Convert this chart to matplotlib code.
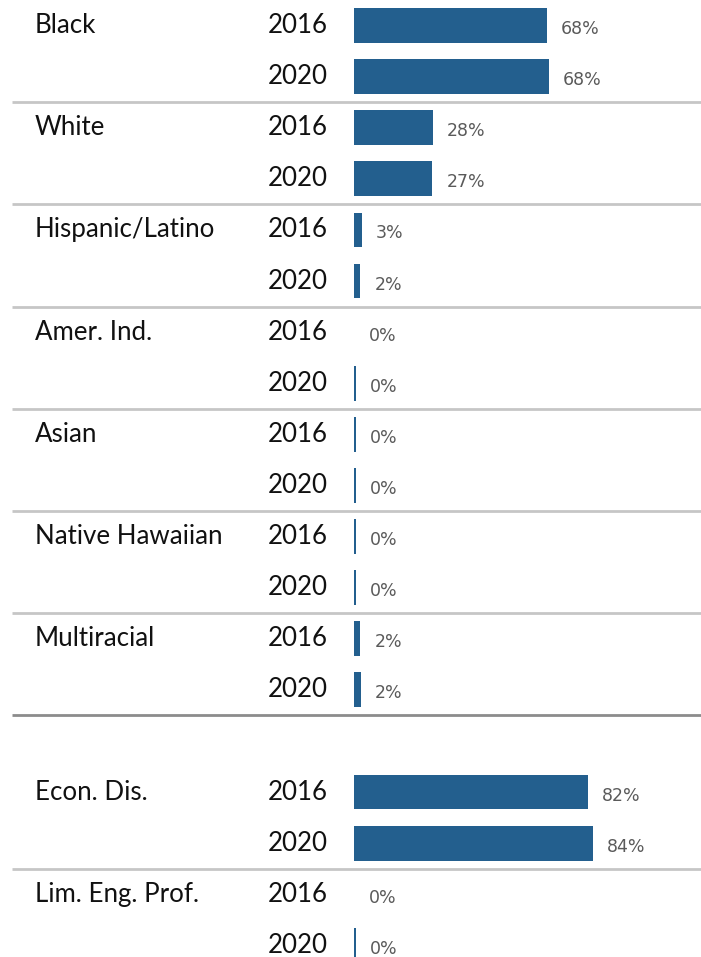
import matplotlib
matplotlib.use("Agg")
import matplotlib.pyplot as plt
import matplotlib.transforms as mtransforms

groups = [
    "Black", "White", "Hispanic/Latino", "Amer. Ind.", "Asian",
    "Native Hawaiian", "Multiracial", "Econ. Dis.", "Lim. Eng. Prof.",
]
years = ["2016", "2020"]
pct_2016 = [67.7, 27.6, 2.7, 0.0, 0.4, 0.4, 2.1, 82.1, 0.0]
pct_2020 = [68.4, 27.4, 2.1, 0.4, 0.4, 0.4, 2.4, 84.0, 0.4]

BAR_COLOR = "#235f8e"
W, H, DPI = 701, 957, 100
ROW = 51.1          # pixels per row
BAR_X0 = 354.5      # pixel where bars start
PX_PER_PCT = 2.845

fig = plt.figure(figsize=(W / DPI, H / DPI), dpi=DPI)
ax = fig.add_axes([0, 0, 1, 1])
ax.set_xlim(-BAR_X0 / PX_PER_PCT, (W - BAR_X0) / PX_PER_PCT)
ax.set_ylim(H / ROW, 0)
ax.axis("off")

# x in pixels, y in data rows
px = mtransforms.blended_transform_factory(
    mtransforms.Affine2D().scale(1 / W, 1) + ax.transAxes, ax.transData)

font = "Lato"
for i, name in enumerate(groups):
    # demographic groups are stacked, then a gap before the program groups
    top = 2 * i + (1 if i >= 7 else 0)
    rows = [top + 0.5, top + 1.5]
    vals = [pct_2016[i], pct_2020[i]]
    ax.barh(rows, vals, height=0.68, color=BAR_COLOR, left=0)
    ax.text(35, rows[0], name, transform=px, ha="left", va="center",
            fontsize=18.6, fontfamily=font, color="#111111")
    for y, yr, v in zip(rows, years, vals):
        ax.text(328, y, yr, transform=px, ha="right", va="center",
                fontsize=18.6, fontfamily=font, color="#111111")
        ax.annotate(f"{v:.0f}%", xy=(v, y), xytext=(10, -2.5),
                    textcoords="offset points", ha="left", va="center",
                    fontsize=12.5, color="#5a5a5a", fontfamily="DejaVu Sans")
    # separator under each group, darker one closing the race block
    if i < 6 or i == 7:
        ax.plot([12, W], [top + 2, top + 2], transform=px,
                color="#c6c6c6", lw=2, solid_capstyle="butt")
    elif i == 6:
        ax.plot([12, W], [top + 2, top + 2], transform=px,
                color="#8c8c8c", lw=2, solid_capstyle="butt")

fig.savefig("out.png", dpi=DPI)
